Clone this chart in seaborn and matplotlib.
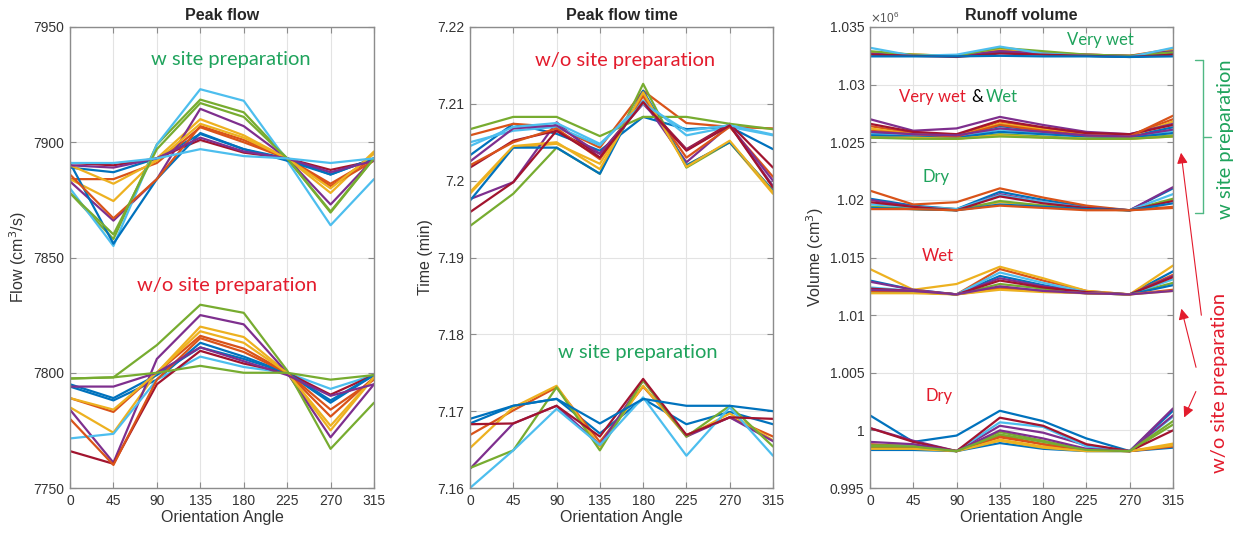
import numpy as np
import pandas as pd
import matplotlib
matplotlib.use("Agg")
import matplotlib.pyplot as plt
import matplotlib.ticker as ticker
from matplotlib.lines import Line2D
from matplotlib.patches import FancyArrowPatch
import seaborn as sns

# 방위각 (x축)
angles = [0, 45, 90, 135, 180, 225, 270, 315]

# Peak flow (cm3/s) - 부지정리 있음 / 없음
flow_w = [
    [7889, 7887, 7893, 7903.6, 7897, 7893, 7886, 7893],
    [7884, 7884, 7891, 7906.5, 7900, 7893, 7882, 7893],
    [7884, 7874.5, 7893, 7910, 7903, 7893, 7878, 7896],
    [7883, 7866, 7884, 7914.5, 7907, 7893, 7873, 7893],
    [7878, 7858, 7899, 7918.5, 7913, 7893, 7869.5, 7893],
    [7880, 7855, 7899, 7923, 7918, 7892, 7864, 7884],
    [7891, 7890, 7893, 7901, 7895.5, 7893, 7888, 7892],
    [7891, 7856, 7884, 7904, 7897, 7892, 7886, 7893],
    [7886, 7867, 7884, 7907, 7901, 7893, 7881, 7892],
    [7890, 7882, 7892, 7908, 7902, 7893, 7880, 7895],
    [7890, 7889, 7893, 7902, 7896, 7893, 7887, 7892],
    [7878, 7860, 7897, 7917, 7911, 7893, 7870, 7893],
    [7891, 7891, 7893, 7897, 7894, 7893, 7891, 7893],
]
flow_wo = [
    [7794, 7788, 7797, 7813, 7807, 7800, 7787, 7799],
    [7789, 7783, 7800, 7816, 7810.5, 7800, 7781, 7798],
    [7785, 7774, 7800, 7820, 7815.5, 7800, 7775, 7798],
    [7784, 7761, 7806, 7825, 7821, 7800, 7772, 7795],
    [7797.5, 7798, 7812, 7829.5, 7826, 7801, 7767, 7787],
    [7771.5, 7773.5, 7797, 7807, 7802.5, 7800, 7793, 7799],
    [7766, 7760.5, 7795, 7809.5, 7804, 7800, 7790.5, 7799],
    [7795, 7789, 7799, 7811, 7806, 7800, 7788, 7799],
    [7780, 7760, 7797, 7815, 7809, 7800, 7784, 7797],
    [7789, 7784, 7800, 7818, 7813, 7800, 7777, 7798],
    [7794, 7794, 7800, 7811, 7805, 7799, 7790, 7795],
    [7797.5, 7798, 7800, 7803, 7800, 7800, 7797, 7799],
]

# Peak flow time (min)
time_wo = [
    [7.2033, 7.2074, 7.2061, 7.2039, 7.2083, 7.2067, 7.2070, 7.2041],
    [7.2059, 7.2074, 7.2070, 7.2043, 7.2117, 7.2075, 7.2070, 7.2068],
    [7.1983, 7.2043, 7.2048, 7.2022, 7.2111, 7.2020, 7.2050, 7.1983],
    [7.1976, 7.1998, 7.2076, 7.2030, 7.2104, 7.2024, 7.2072, 7.1993],
    [7.1941, 7.1983, 7.2043, 7.2009, 7.2126, 7.2017, 7.2050, 7.1987],
    [7.2050, 7.2065, 7.2070, 7.2046, 7.2104, 7.2059, 7.2070, 7.2059],
    [7.2017, 7.2052, 7.2065, 7.2035, 7.2102, 7.2041, 7.2074, 7.2017],
    [7.1974, 7.2043, 7.2043, 7.2009, 7.2117, 7.2020, 7.2050, 7.1987],
    [7.2020, 7.2050, 7.2068, 7.2028, 7.2110, 7.2030, 7.2070, 7.2005],
    [7.1985, 7.2045, 7.2050, 7.2015, 7.2115, 7.2018, 7.2052, 7.1985],
    [7.2025, 7.2068, 7.2072, 7.2035, 7.2100, 7.2040, 7.2072, 7.2000],
    [7.2067, 7.2083, 7.2083, 7.2058, 7.2083, 7.2083, 7.2074, 7.2067],
    [7.2045, 7.2070, 7.2075, 7.2048, 7.2100, 7.2065, 7.2072, 7.2060],
    [7.1959, 7.1998, 7.2065, 7.2030, 7.2102, 7.2039, 7.2072, 7.1991],
]
time_w = [
    [7.1684, 7.1707, 7.1716, 7.1671, 7.1716, 7.1683, 7.1699, 7.1683],
    [7.1669, 7.1701, 7.1731, 7.1660, 7.1732, 7.1669, 7.1692, 7.1667],
    [7.1652, 7.1705, 7.1733, 7.1654, 7.1733, 7.1667, 7.1697, 7.1662],
    [7.1625, 7.1684, 7.1707, 7.1656, 7.1740, 7.1667, 7.1692, 7.1661],
    [7.1626, 7.1649, 7.1731, 7.1649, 7.1740, 7.1667, 7.1707, 7.1654],
    [7.1600, 7.1649, 7.1703, 7.1656, 7.1718, 7.1642, 7.1705, 7.1642],
    [7.1683, 7.1684, 7.1707, 7.1667, 7.1742, 7.1669, 7.1692, 7.1690],
    [7.1690, 7.1707, 7.1716, 7.1684, 7.1716, 7.1707, 7.1707, 7.1700],
]

# Runoff volume (x10^6 cm3)
vol_verywet_w = [
    [1.03265, 1.03255, 1.03245, 1.0328, 1.03265, 1.03255, 1.03245, 1.03275],
    [1.0327, 1.0326, 1.0325, 1.0330, 1.0327, 1.0326, 1.0325, 1.0331],
    [1.0328, 1.0326, 1.0325, 1.0331, 1.0328, 1.0326, 1.0325, 1.0330],
    [1.0327, 1.0325, 1.0325, 1.0329, 1.0327, 1.0326, 1.0325, 1.0329],
    [1.0329, 1.0326, 1.0325, 1.0332, 1.0329, 1.0326, 1.0325, 1.0328],
    [1.0332, 1.0325, 1.0326, 1.0333, 1.0327, 1.0325, 1.0324, 1.0332],
    [1.0326, 1.0325, 1.0324, 1.0327, 1.0326, 1.0325, 1.0324, 1.0326],
    [1.03245, 1.03245, 1.03245, 1.0325, 1.03245, 1.03245, 1.0324, 1.03245],
]
vol_wet_w = [
    [1.0258, 1.0257, 1.0256, 1.0264, 1.0260, 1.0256, 1.0255, 1.0263],
    [1.0264, 1.0258, 1.0256, 1.0268, 1.0262, 1.0257, 1.0256, 1.0270],
    [1.0262, 1.0257, 1.0255, 1.0266, 1.0261, 1.0256, 1.0255, 1.0268],
    [1.0270, 1.0260, 1.0262, 1.0272, 1.0265, 1.0259, 1.0257, 1.0266],
    [1.0255, 1.0254, 1.0253, 1.0257, 1.0255, 1.0253, 1.0253, 1.0256],
    [1.0257, 1.0256, 1.0254, 1.0261, 1.0258, 1.0255, 1.0254, 1.0260],
    [1.0266, 1.0259, 1.0257, 1.0269, 1.0263, 1.0258, 1.0257, 1.0265],
    [1.0256, 1.0255, 1.0254, 1.0259, 1.0257, 1.0255, 1.0254, 1.0258],
    [1.0260, 1.0257, 1.0255, 1.0265, 1.0260, 1.0256, 1.0255, 1.0273],
    [1.0254, 1.0254, 1.0253, 1.0256, 1.0254, 1.0253, 1.0253, 1.0255],
    [1.0259, 1.0257, 1.0256, 1.0262, 1.0259, 1.0256, 1.0255, 1.0261],
    [1.0254, 1.0253, 1.0253, 1.0255, 1.0254, 1.0253, 1.0253, 1.0255],
]
vol_dry_w = [
    [1.0201, 1.0195, 1.0192, 1.0207, 1.0200, 1.0194, 1.0191, 1.0210],
    [1.0208, 1.0196, 1.0198, 1.0210, 1.0202, 1.0195, 1.0191, 1.0194],
    [1.0194, 1.0193, 1.0192, 1.0198, 1.0195, 1.0192, 1.0191, 1.0200],
    [1.0200, 1.0194, 1.0191, 1.0205, 1.0198, 1.0193, 1.0191, 1.0211],
    [1.0194, 1.0192, 1.0191, 1.0199, 1.0195, 1.0192, 1.0191, 1.0201],
    [1.0196, 1.0194, 1.0192, 1.0204, 1.0198, 1.0193, 1.0191, 1.0205],
    [1.0198, 1.0194, 1.0191, 1.0203, 1.0197, 1.0193, 1.0191, 1.0199],
    [1.0193, 1.0192, 1.0191, 1.0196, 1.0194, 1.0192, 1.0191, 1.0197],
    [1.0192, 1.0192, 1.0191, 1.0195, 1.0193, 1.0191, 1.0191, 1.0193],
]
vol_wet_wo = [
    [1.0130, 1.0122, 1.0118, 1.0134, 1.0126, 1.0120, 1.0118, 1.0138],
    [1.0122, 1.0121, 1.0118, 1.0140, 1.0130, 1.0121, 1.0118, 1.0135],
    [1.0140, 1.0122, 1.0127, 1.0142, 1.0132, 1.0121, 1.0118, 1.0143],
    [1.0129, 1.0122, 1.0118, 1.0132, 1.0125, 1.0120, 1.0118, 1.0134],
    [1.0121, 1.0120, 1.0118, 1.0127, 1.0123, 1.0119, 1.0118, 1.0128],
    [1.0124, 1.0121, 1.0118, 1.0137, 1.0128, 1.0120, 1.0118, 1.0131],
    [1.0123, 1.0121, 1.0118, 1.0130, 1.0124, 1.0120, 1.0118, 1.0133],
    [1.0120, 1.0120, 1.0118, 1.0124, 1.0121, 1.0119, 1.0118, 1.0126],
    [1.0121, 1.0121, 1.0118, 1.0123, 1.0121, 1.0119, 1.0118, 1.0122],
    [1.0119, 1.0119, 1.0118, 1.0122, 1.0120, 1.0119, 1.0118, 1.0121],
    [1.0122, 1.0121, 1.0118, 1.0125, 1.0121, 1.0119, 1.0118, 1.0121],
]
vol_dry_wo = [
    [1.0013, 0.9990, 0.99955, 1.0017, 1.0008, 0.9993, 0.9982, 1.0017],
    [0.9988, 0.9986, 0.9982, 0.9994, 0.9988, 0.9983, 0.9982, 0.9987],
    [0.9986, 0.9985, 0.9982, 0.9992, 0.9986, 0.9983, 0.9982, 0.99885],
    [1.0002, 0.9991, 0.9982, 1.0004, 0.9998, 0.9987, 0.9982, 1.0019],
    [0.9987, 0.9987, 0.9982, 0.99985, 0.9991, 0.9983, 0.9982, 1.0005],
    [0.9985, 0.9986, 0.9982, 1.0007, 1.0003, 0.9986, 0.9982, 1.0012],
    [1.0002, 0.9990, 0.9982, 1.0011, 1.0004, 0.9988, 0.9982, 1.0000],
    [0.9983, 0.9983, 0.9982, 0.9989, 0.9984, 0.9982, 0.9982, 0.9985],
    [0.9985, 0.9985, 0.9982, 0.99955, 0.9988, 0.9983, 0.9982, 0.9986],
    [0.9984, 0.9984, 0.9982, 0.9991, 0.9985, 0.9982, 0.9982, 0.9987],
    [0.9990, 0.9988, 0.9982, 1.0000, 0.9993, 0.9984, 0.9982, 1.0013],
    [0.9986, 0.9986, 0.9982, 0.99965, 0.9990, 0.9983, 0.9982, 1.0008],
]

# MATLAB 기본 색상 순서
matlab_colors = ['#0072BD', '#D95319', '#EDB120', '#7E2F8E',
                 '#77AC30', '#4DBEEE', '#A2142F']
GREEN = '#1fa35c'
RED = '#e31b2c'

sns.set_style('ticks')
plt.rcParams['font.family'] = ['Liberation Sans', 'DejaVu Sans']
ANNOT_FONT = ['Lato', 'DejaVu Sans']
BIG = 14.5   # 큰 주석 글자 크기

W, H = 1238, 537
fig = plt.figure(figsize=(W / 100, H / 100), dpi=100)


def px(x, y):
    # 픽셀 좌표 -> figure 비율 좌표
    return x / W, 1 - y / H


def draw_group(ax, lines, scale=1.0):
    df = pd.DataFrame(lines, columns=angles)
    df['line'] = ['L%d' % i for i in range(len(lines))]
    df = df.melt(id_vars='line', var_name='angle', value_name='value')
    df['angle'] = df['angle'].astype(float)
    df['value'] = df['value'] * scale
    pal = [matlab_colors[i % 7] for i in range(len(lines))]
    sns.lineplot(data=df, x='angle', y='value', hue='line', palette=pal,
                 legend=False, ax=ax, linewidth=1.6, estimator=None)


def style_axis(ax, title, ylabel, ylim, step):
    ax.set_xlim(0, 315)
    ax.set_xticks(angles)
    ax.set_ylim(*ylim)
    ax.yaxis.set_major_locator(ticker.MultipleLocator(step))
    ax.grid(True, color='#e3e3e3', linewidth=0.8)
    ax.set_axisbelow(True)
    for s in ax.spines.values():
        s.set_color('#8c8c8c')
        s.set_linewidth(1.0)
    ax.tick_params(direction='in', top=True, right=True, length=4,
                   color='#8c8c8c', labelsize=10, labelcolor='#333333', pad=4)
    ax.set_title(title, fontsize=11.5, fontweight='bold', pad=5)
    ax.set_xlabel('Orientation Angle', fontsize=11.5, color='#333333', labelpad=2)
    ax.set_ylabel(ylabel, fontsize=11.5, color='#333333', labelpad=3)


# 1. Peak flow
ax1 = fig.add_axes([70 / W, 49 / H, 304 / W, 461 / H])
draw_group(ax1, flow_w)
draw_group(ax1, flow_wo)
style_axis(ax1, 'Peak flow', 'Flow (cm$^3$/s)', (7750, 7950), 50)
ax1.yaxis.set_major_formatter(ticker.FormatStrFormatter('%g'))
ax1.text(167, 7936, 'w site preparation', color=GREEN, fontsize=BIG,
         family=ANNOT_FONT, ha='center', va='center')
ax1.text(163, 7838, 'w/o site preparation', color=RED, fontsize=BIG,
         family=ANNOT_FONT, ha='center', va='center')

# 2. Peak flow time
ax2 = fig.add_axes([470 / W, 49 / H, 303 / W, 461 / H])
draw_group(ax2, time_wo)
draw_group(ax2, time_w)
style_axis(ax2, 'Peak flow time', 'Time (min)', (7.16, 7.22), 0.01)
ax2.yaxis.set_major_formatter(ticker.FuncFormatter(lambda v, p: '%g' % round(v, 4)))
ax2.text(161, 7.2157, 'w/o site preparation', color=RED, fontsize=BIG,
         family=ANNOT_FONT, ha='center', va='center')
ax2.text(174, 7.1777, 'w site preparation', color=GREEN, fontsize=BIG,
         family=ANNOT_FONT, ha='center', va='center')


# 3. Runoff volume
class MatlabFormatter(ticker.ScalarFormatter):
    def _set_format(self):
        self.format = '%g'


ax3 = fig.add_axes([870 / W, 49 / H, 303 / W, 461 / H])
for grp in [vol_verywet_w, vol_wet_w, vol_dry_w, vol_wet_wo, vol_dry_wo]:
    draw_group(ax3, grp, scale=1e6)
style_axis(ax3, 'Runoff volume', 'Volume (cm$^3$)', (0.995e6, 1.035e6), 0.005e6)
fmt = MatlabFormatter(useMathText=True, useOffset=False)
fmt.set_powerlimits((0, 0))
ax3.yaxis.set_major_formatter(fmt)
ax3.yaxis.get_offset_text().set_fontsize(8.5)
ax3.yaxis.get_offset_text().set_color('#555555')

kw = dict(fontsize=12, family=ANNOT_FONT, va='center')
ax3.text(239, 1.03387e6, 'Very wet', color=GREEN, ha='center', **kw)
ax3.text(30, 1.02892e6, 'Very wet', color=RED, ha='left', **kw)
ax3.text(105, 1.02892e6, '&', color='black', ha='left', **kw)
ax3.text(120.5, 1.02892e6, 'Wet', color=GREEN, ha='left', **kw)
ax3.text(69, 1.02198e6, 'Dry', color=GREEN, ha='center', **kw)
ax3.text(70, 1.01512e6, 'Wet', color=RED, ha='center', **kw)
ax3.text(72, 1.00297e6, 'Dry', color=RED, ha='center', **kw)

# 오른쪽 괄호와 화살표
BR = '#4fb884'
for seg in [[(1195, 60), (1203, 60)], [(1203, 60), (1203, 213)],
            [(1195, 213), (1203, 213)], [(1203, 137), (1211, 137)]]:
    (x0, y0), (x1, y1) = px(*seg[0]), px(*seg[1])
    fig.add_artist(Line2D([x0, x1], [y0, y1], color=BR, lw=1.0,
                          transform=fig.transFigure))
fig.text(*px(1225, 139), 'w site preparation', rotation=90, color=GREEN,
         fontsize=BIG, family=ANNOT_FONT, ha='center', va='center')
fig.text(*px(1220, 383), 'w/o site preparation', rotation=90, color=RED,
         fontsize=BIG, family=ANNOT_FONT, ha='center', va='center')

for tail, head in [((1201.7, 318), (1180.7, 150)),
                   ((1196.7, 370), (1180.7, 306)),
                   ((1197, 389), (1183, 420))]:
    fig.add_artist(FancyArrowPatch(px(*tail), px(*head), transform=fig.transFigure,
                                   arrowstyle='-|>', mutation_scale=16,
                                   color=RED, lw=0.8))

plt.savefig('out.png', dpi=100)
